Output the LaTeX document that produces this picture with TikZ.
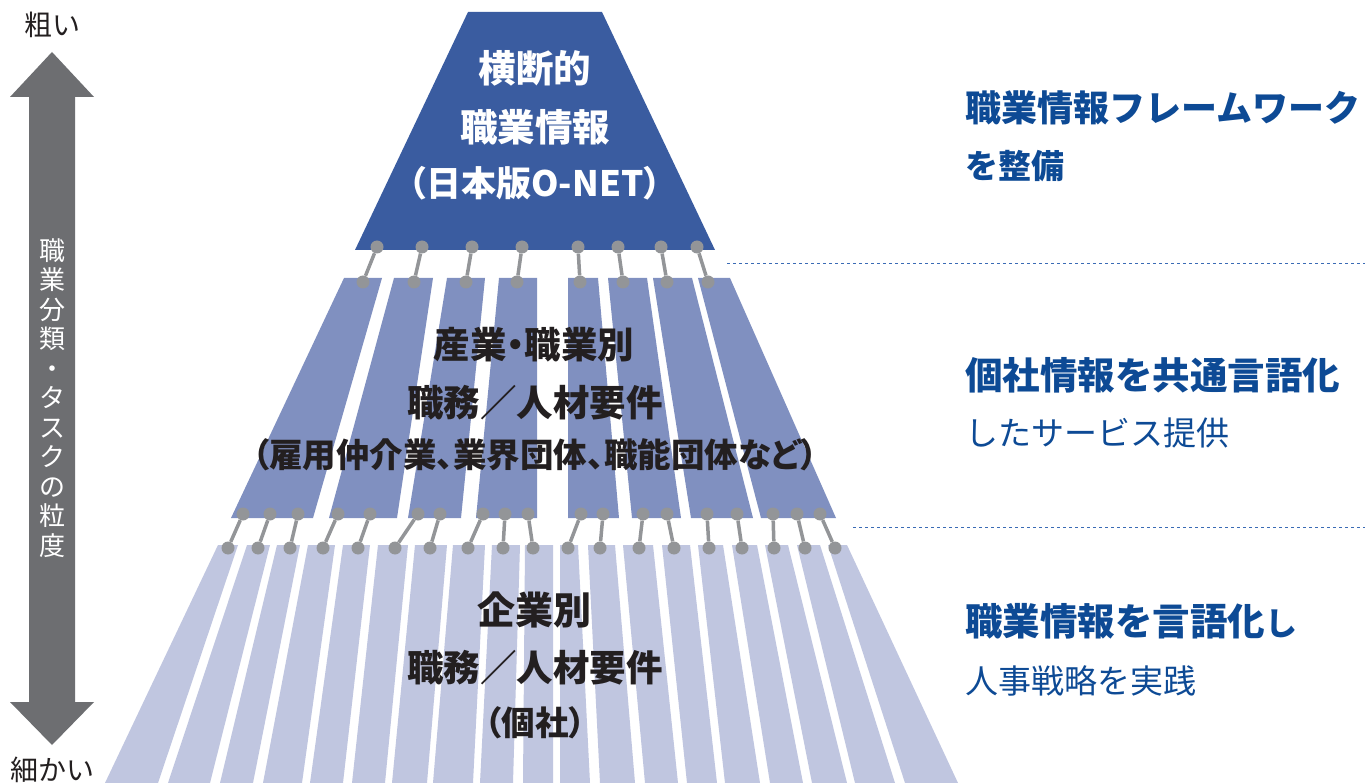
\documentclass[tikz,border=0pt]{standalone}
\usepackage{fontspec}
\newfontfamily\jp{Noto Sans CJK JP}
\newfontfamily\jpp[RawFeature=+palt]{Noto Sans CJK JP}
\definecolor{topblue}{RGB}{58,92,160}
\definecolor{midblue}{RGB}{128,144,192}
\definecolor{lowblue}{RGB}{192,198,224}
\definecolor{dotgray}{RGB}{147,149,152}
\definecolor{arrowgray}{RGB}{109,110,113}
\definecolor{txtblue}{RGB}{13,74,149}
\definecolor{dashblue}{RGB}{58,107,181}
\definecolor{ink}{RGB}{35,31,32}
\begin{document}
\begin{tikzpicture}[x=1pt,y=-1pt,
  dot/.style={circle,fill=dotgray,inner sep=0pt,minimum size=13pt},
  conn/.style={draw=dotgray,line width=3.5pt},
  toptext/.style={text=white,font={\jpp\bfseries\fontsize{37.5}{40}\selectfont},inner sep=0pt},
  bigblack/.style={text=ink,font={\jpp\bfseries\fontsize{36.5}{40}\selectfont},inner sep=0pt},
  smallblack/.style={text=ink,font={\jpp\bfseries\fontsize{33.5}{36}\selectfont},inner sep=0pt},
  rbig/.style={text=txtblue,anchor=west,font={\jp\bfseries\fontsize{37.5}{40}\selectfont},inner sep=0pt},
  rsmall/.style={text=txtblue,anchor=west,font={\jp\fontsize{33}{36}\selectfont},inner sep=0pt},
  sidelabel/.style={text=ink,font={\jp\fontsize{28}{32}\selectfont},inner sep=0pt},
  divider/.style={draw=dashblue,line width=1pt,dash pattern=on 3pt off 3pt}
]
\useasboundingbox (0,0) rectangle (1365,783);
\fill[white] (0,0) rectangle (1365,783);

% ---- left arrow ----
\fill[arrowgray] (52,52) -- (94,97) -- (75,97) -- (75,702) -- (94,702) -- (52,745)
  -- (10,702) -- (29,702) -- (29,97) -- (10,97) -- cycle;
\node[text=white,align=center,inner sep=0pt,font={\jp\fontsize{26}{29.5}\selectfont}] (axis) at (52,398)
  {職\\業\\分\\類\\・\\タ\\ス\\ク\\の\\粒\\度};
\node[sidelabel] (coarse) at (52,25) {粗い};
\node[sidelabel] (fine) at (52,770) {細かい};

% ---- top trapezoid ----
\fill[topblue] (468,12) -- (602,12) -- (715,250) -- (355,250) -- cycle;

% ---- middle stripes ----
\foreach \a/\b/\c/\d in {344/382/231/313, 394/433/329/397, 447/485/408/461, 499/537/476/537,
                         568/598/568/619, 608/647/632/681, 653/692/691/753, 698/730/761/836}
  \fill[midblue] (\a,278) -- (\b,278) -- (\d,518) -- (\c,518) -- cycle;

% ---- bottom stripes ----
\foreach \a/\b/\c/\d in {218/238/105/158, 247/270/168/210, 277/300/220/253, 308/335/263/302,
                         343/370/310/343, 378/408/352/385, 415/447/392/427, 453/485/433/473,
                         492/520/480/513, 525/553/523/553, 560/578/560/590, 588/615/600/635,
                         623/653/645/678, 662/690/687/717, 698/723/725/760, 732/757/770/803,
                         765/788/812/847, 797/820/855/895, 828/847/905/958}
  \fill[lowblue] (\a,545) -- (\b,545) -- (\d,783) -- (\c,783) -- cycle;

% ---- dividers ----
\coordinate (d1a) at (727,264); \coordinate (d1b) at (1365,264);
\coordinate (d2a) at (853,527); \coordinate (d2b) at (1365,527);
\draw[divider] (d1a) -- (d1b);
\draw[divider] (d2a) -- (d2b);

% ---- connectors top -> middle ----
\foreach \i/\x/\y in {1/377/363, 2/422/414, 3/472/466, 4/522/517, 5/578/580, 6/618/623, 7/661/667, 8/697/708}{
  \node[dot] (ta\i) at (\x,247) {};
  \node[dot] (tb\i) at (\y,282) {};
  \draw[conn] (ta\i) -- (tb\i);
}

% ---- connectors middle -> bottom ----
\foreach \i/\x/\y in {1/243/228, 2/270/258, 3/298/290, 4/338/323, 5/370/358, 6/418/395, 7/440/430,
                      8/483/468, 9/505/503, 10/528/533, 11/581/568, 12/603/600, 13/643/639,
                      14/667/674, 15/707/709, 16/737/742, 17/773/774, 18/797/805, 19/820/835}{
  \node[dot] (ma\i) at (\x,514) {};
  \node[dot] (mb\i) at (\y,548) {};
  \draw[conn] (ma\i) -- (mb\i);
}

% ---- center texts ----
\node[toptext] (t1) at (535,68) {横断的};
\node[toptext] (t2) at (535,127) {職業情報};
\node[toptext,font={\jpp\bfseries\fontsize{35}{40}\selectfont}] (t3) at (535,183) {（日本版O-NET）};

\node[bigblack] (m1) at (534,345) {産業・職業別};
\node[bigblack] (m2) at (535,403) {職務／人材要件};
\node[smallblack] (m3) at (535,455) {（雇用仲介業、業界団体、職能団体など）};

\node[bigblack,font={\jpp\bfseries\fontsize{38}{40}\selectfont}] (b1) at (534,610) {企業別};
\node[bigblack] (b2) at (535,668) {職務／人材要件};
\node[smallblack] (b3) at (535,723) {（個社）};

% ---- right texts ----
\node[rbig,font={\jp\bfseries\fontsize{36}{40}\selectfont}] (r1) at (965,108) {職業情報フレームワーク};
\node[rsmall,font={\jp\bfseries\fontsize{33}{36}\selectfont}] (r2) at (965,166) {を整備};
\node[rbig] (r3) at (965,375) {個社情報を共通言語化};
\node[rsmall] (r4) at (965,433) {したサービス提供};
\node[rbig] (r5) at (965,621) {職業情報を言語化{\fontsize{32}{36}\selectfont し}};
\node[rsmall] (r6) at (965,681) {人事戦略を実践};
\end{tikzpicture}
\end{document}
